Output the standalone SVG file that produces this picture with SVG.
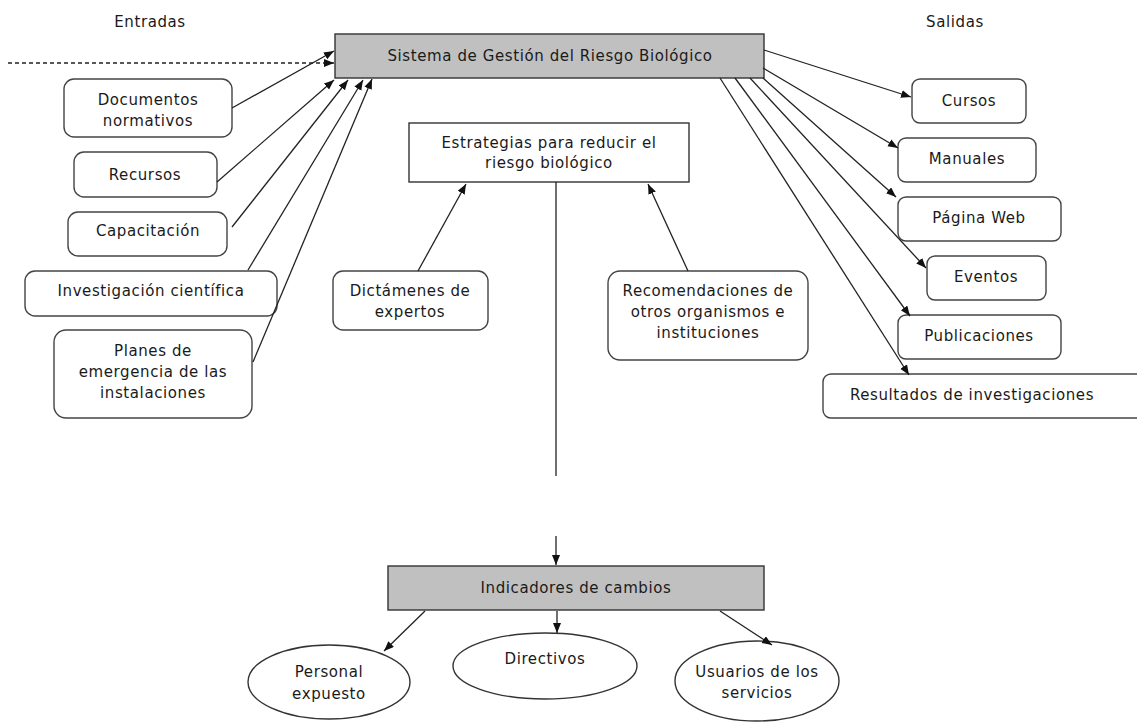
<svg xmlns="http://www.w3.org/2000/svg" width="1137" height="724" viewBox="0 0 1137 724">
<style>
text{font-family:"DejaVu Sans","Liberation Sans",sans-serif;font-size:15px;letter-spacing:0.6px;fill:#1a1a1a;text-anchor:middle}
.rb{fill:#fff;stroke:#444;stroke-width:1.4}
.gb{fill:#c0c0c0;stroke:#333;stroke-width:1.4}
.wb{fill:#fff;stroke:#333;stroke-width:1.4}
.el{fill:#fff;stroke:#333;stroke-width:1.4}
.c{fill:none;stroke:#222;stroke-width:1.3}
.a{marker-end:url(#ah)}
.d{stroke-dasharray:4 3}
</style>
<defs>
<marker id="ah" markerUnits="userSpaceOnUse" markerWidth="11" markerHeight="9" refX="10" refY="4" orient="auto">
<path d="M0,0 L10,4 L0,8 z" fill="#111"/>
</marker>
</defs>
<rect width="1137" height="724" fill="#fff"/>
<text x="150" y="27">Entradas</text>
<text x="955" y="27">Salidas</text>

<g id="sistema"><rect class="gb" x="335" y="34" width="429" height="44"/><text x="550" y="61">Sistema de Gestión del Riesgo Biológico</text></g>

<g id="documentos"><rect class="rb" x="64" y="79" width="168" height="58" rx="10"/><text x="148" y="105">Documentos</text><text x="148" y="126">normativos</text></g>
<g id="recursos"><rect class="rb" x="74" y="152" width="143" height="45" rx="10"/><text x="145" y="180">Recursos</text></g>
<g id="capacitacion"><rect class="rb" x="68" y="212" width="159" height="44" rx="10"/><text x="148" y="236">Capacitación</text></g>
<g id="investigacion"><rect class="rb" x="25" y="271" width="252" height="45" rx="10"/><text x="151" y="296">Investigación científica</text></g>
<g id="planes"><rect class="rb" x="54" y="330" width="198" height="88" rx="12"/><text x="153" y="356">Planes de</text><text x="153" y="377">emergencia de las</text><text x="153" y="398">instalaciones</text></g>

<g id="estrategias"><rect class="wb" x="409" y="123" width="280" height="59"/><text x="549" y="148">Estrategias para reducir el</text><text x="549" y="168">riesgo biológico</text></g>
<g id="dictamenes"><rect class="rb" x="333" y="271" width="155" height="59" rx="10"/><text x="410" y="296">Dictámenes de</text><text x="410" y="317">expertos</text></g>
<g id="recomendaciones"><rect class="rb" x="608" y="271" width="200" height="89" rx="12"/><text x="708" y="296">Recomendaciones de</text><text x="708" y="317">otros organismos e</text><text x="708" y="338">instituciones</text></g>

<g id="cursos"><rect class="rb" x="912" y="79" width="114" height="44" rx="8"/><text x="969" y="106">Cursos</text></g>
<g id="manuales"><rect class="rb" x="898" y="138" width="138" height="44" rx="8"/><text x="967" y="164">Manuales</text></g>
<g id="pagina"><rect class="rb" x="898" y="197" width="163" height="44" rx="8"/><text x="979" y="223">Página Web</text></g>
<g id="eventos"><rect class="rb" x="927" y="256" width="119" height="44" rx="8"/><text x="986" y="282">Eventos</text></g>
<g id="publicaciones"><rect class="rb" x="898" y="315" width="163" height="44" rx="8"/><text x="979" y="341">Publicaciones</text></g>
<g id="resultados"><rect class="rb" x="823" y="374" width="330" height="44" rx="8"/><text x="972" y="400">Resultados de investigaciones</text></g>

<g id="indicadores"><rect class="gb" x="388" y="566" width="376" height="44"/><text x="576" y="593">Indicadores de cambios</text></g>
<g id="personal"><ellipse class="el" cx="329" cy="682" rx="81" ry="37"/><text x="329" y="677">Personal</text><text x="329" y="699">expuesto</text></g>
<g id="directivos"><ellipse class="el" cx="545" cy="666" rx="92" ry="33"/><text x="545" y="664">Directivos</text></g>
<g id="usuarios"><ellipse class="el" cx="757" cy="681" rx="82" ry="40"/><text x="757" y="677">Usuarios de los</text><text x="757" y="698">servicios</text></g>

<g id="connectors">
<line class="c a d" x1="8" y1="63" x2="334" y2="63"/>
<line class="c a" x1="232" y1="108" x2="334" y2="51"/>
<line class="c a" x1="217" y1="182" x2="334" y2="80"/>
<line class="c a" x1="232" y1="227" x2="348" y2="80"/>
<line class="c a" x1="248" y1="270" x2="363" y2="80"/>
<line class="c a" x1="253" y1="362" x2="372" y2="79"/>
<line class="c a" x1="764" y1="50" x2="911" y2="97"/>
<line class="c a" x1="763" y1="68" x2="898" y2="148"/>
<line class="c a" x1="763" y1="78" x2="896" y2="197"/>
<line class="c a" x1="750" y1="78" x2="926" y2="268"/>
<line class="c a" x1="735" y1="78" x2="910" y2="316"/>
<line class="c a" x1="720" y1="78" x2="909" y2="375"/>
<line class="c a" x1="418" y1="271" x2="466" y2="184"/>
<line class="c a" x1="688" y1="271" x2="648" y2="184"/>
<line class="c" x1="556" y1="182" x2="556" y2="476"/>
<line class="c a" x1="556" y1="536" x2="556" y2="565"/>
<line class="c a" x1="425" y1="611" x2="384" y2="651"/>
<line class="c a" x1="557" y1="611" x2="557" y2="633"/>
<line class="c a" x1="720" y1="611" x2="772" y2="645"/>
</g>
</svg>
